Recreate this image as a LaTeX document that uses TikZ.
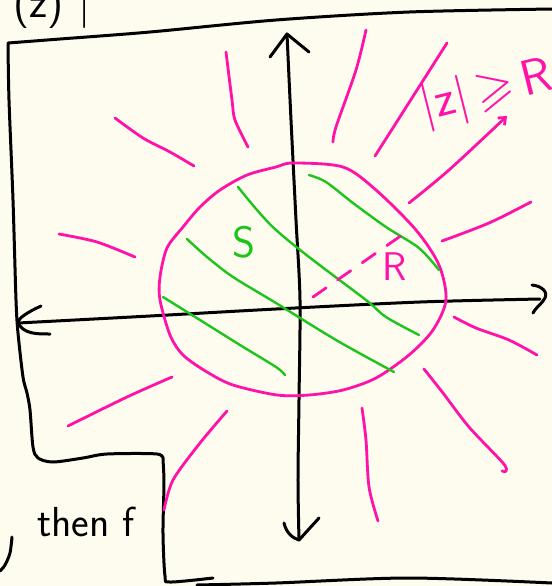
\documentclass[tikz,border=0pt]{standalone}
\usepackage{amsmath,amssymb}
\usepackage{xcolor}
\usepackage{tikz}
\usetikzlibrary{arrows.meta}

\definecolor{paper}{HTML}{FDFCEF}
\definecolor{pen}{HTML}{FF12A8}
\definecolor{hatchgreen}{HTML}{1CC41C}

\begin{document}
\begin{tikzpicture}[
          x=0.5pt, y=-0.5pt,
          every node/.style={font=\fontsize{22}{24}\selectfont\sffamily, inner sep=0pt},
          frame/.style={line width=1.5pt, line cap=round, line join=round},
          axis/.style={line width=1.5pt, line cap=round, line join=round},
          ray/.style={pen, line width=1.4pt, line cap=round},
          hatch/.style={hatchgreen, line width=1.2pt, line cap=round},
          lab/.style={inner sep=0pt},
        ]
          %% page and background
          \fill[paper] (0,0) rectangle (552,586);
          \useasboundingbox (0,0) rectangle (552,586);

          %% text left over from the page
          \node[lab] (fz)   at (52,6)    {(z)\,\,|};
          \node[lab, font=\fontsize{21}{24}\selectfont\sffamily] (then) at (86,522) {then f};
          \draw[frame] plot[smooth] coordinates {(12,537) (10,553) (5,565) (0,571)};

          %% frame around the plane
          \draw[frame] plot[smooth] coordinates {(552,9) (409,12) (276,20) (150,32) (60,39) (8,43)}
                       -- plot[smooth] coordinates {(8,43) (9,100) (13,200) (16,300) (18,333) (23,377)
                          (27,393) (30,410) (33,447) (38,458) (53,462) (83,458) (107,454) (157,454) (163,460)}
                       -- plot[smooth] coordinates {(163,460) (164,483) (163,533) (165,576) (170,582) (213,578)};
          \draw[frame] plot[smooth] coordinates {(197,585) (276,583) (409,578) (552,583)};

          %% axes
          \coordinate (xl) at (18,323);
          \coordinate (xr) at (540,299);
          \coordinate (yt) at (287,34);
          \coordinate (yb) at (299,540);
          \draw[axis] plot[smooth] coordinates {(xl) (150,316) (276,309) (420,302) (xr)};
          \draw[axis] plot[smooth] coordinates {(yt) (291,120) (296,220) (300,300) (299,400) (298,480) (yb)};
          %% arrow heads, by hand
          \draw[axis] (41,306) .. controls (28,312) and (18,318) .. (xl) .. controls (24,334) and (36,334) .. (50,334);
          \draw[axis] (532,285) .. controls (542,286) and (548,292) .. (545,298) .. controls (542,304) and (535,308) .. (533,313);
          \draw[axis] (270,57) -- (yt) -- (309,52);
          \draw[axis] (284,523) .. controls (286,532) and (292,538) .. (yb) -- (319,518);

          %% circle |z| = R
          \draw[pen, line width=1.4pt] plot[smooth cycle] coordinates {
            (293,163) (343,167) (376,190) (416,230) (439,265) (446,300) (433,330) (409,355)
            (376,378) (343,390) (309,395) (277,395) (233,385) (207,372) (183,355) (170,335)
            (160,300) (160,277) (167,248) (183,227) (200,207) (220,190) (247,175) (276,167)};

          %% hatching of S
          \draw[hatch] plot[smooth] coordinates {(309,175) (326,182) (353,203) (386,227) (419,248) (439,270)};
          \draw[hatch] plot[smooth] coordinates {(238,187) (257,210) (276,230) (309,257) (366,300) (386,317) (419,335)};
          \draw[hatch] plot[smooth] coordinates {(187,239) (207,257) (233,277) (276,303) (336,340) (394,372)};
          \draw[hatch] plot[smooth] coordinates {(163,297) (200,320) (240,345) (276,367) (285,375)};
          \node[lab, hatchgreen] (S) at (244,242) {S};

          %% radius
          \coordinate (r0) at (313,297);
          \coordinate (r1) at (402,235);
          \draw[ray, dash pattern=on 8pt off 7pt] (r0) -- (r1);
          \node[lab, pen, font=\fontsize{20}{22}\selectfont\sffamily] (R) at (395,267) {R};

          %% rays of the outside
          \draw[ray] plot[smooth] coordinates {(226,52) (232,100) (235,120) (248,147)};
          \draw[ray] plot[smooth] coordinates {(115,118) (143,138) (170,152) (194,166)};
          \draw[ray] plot[smooth] coordinates {(59,234) (97,242) (135,257)};
          \draw[ray] plot[smooth] coordinates {(366,30) (356,70) (336,127) (333,142)};
          \draw[ray] plot[smooth] coordinates {(447,43) (375,156)};
          \draw[ray, -{Straight Barb[length=3pt, width=5pt]}] plot[smooth] coordinates {(409,203) (449,170) (507,116)};
          \draw[ray] plot[smooth] coordinates {(531,202) (489,223) (442,241)};
          \draw[ray] plot[smooth] coordinates {(454,317) (476,328) (509,340) (537,355)};
          \draw[ray] plot[smooth] coordinates {(424,369) (443,393) (469,427) (503,463) (506,471) (502,471)};
          \draw[ray] plot[smooth] coordinates {(362,408) (366,440) (369,487) (378,521)};
          \draw[ray] plot[smooth] coordinates {(227,411) (200,443) (173,480) (164,510)};
          \draw[ray] plot[smooth] coordinates {(172,377) (127,397) (68,426)};
          \node[lab, pen, rotate=14, font=\fontsize{25}{27}\selectfont\sffamily] (outside) at (487,93) {|z|\,$\geqslant$\,R};
        \end{tikzpicture}
\end{document}
